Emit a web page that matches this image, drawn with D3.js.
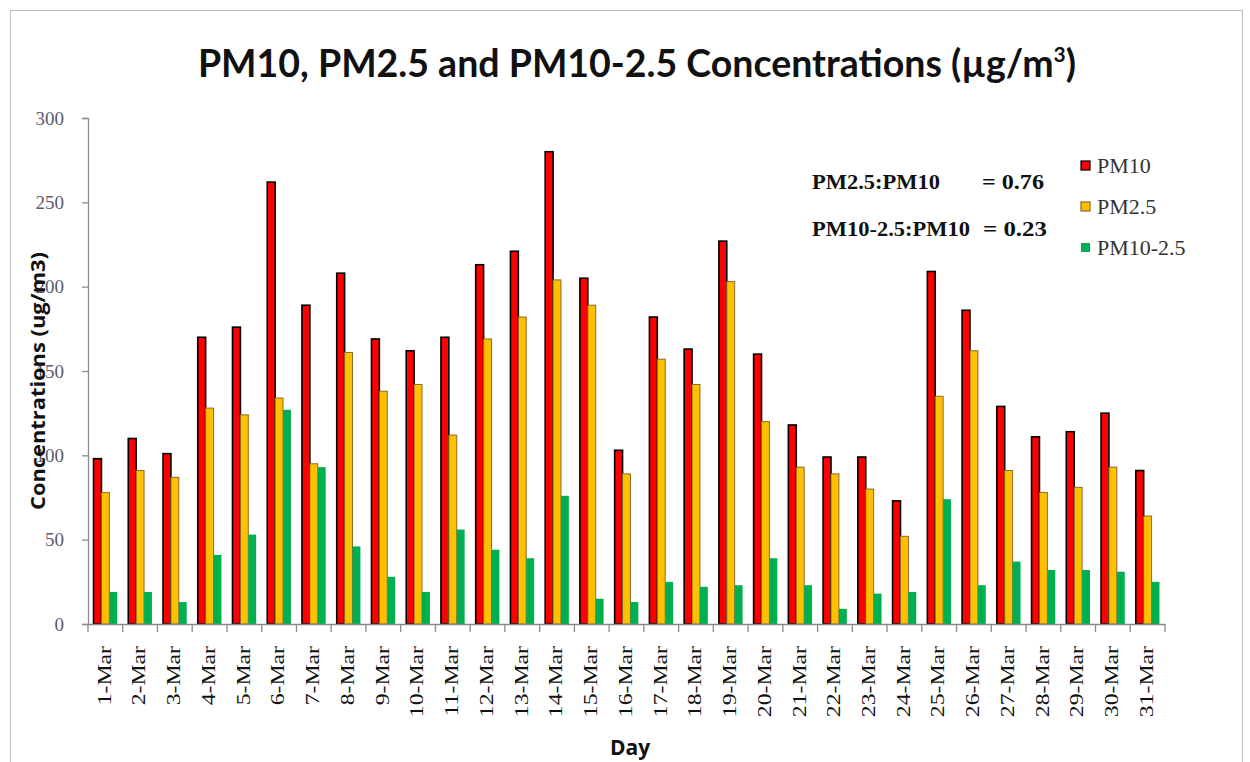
<!DOCTYPE html>
<html>
<head>
<meta charset="utf-8">
<script src="https://cdn.jsdelivr.net/npm/d3@7"></script>
<style>
  html, body { margin: 0; padding: 0; background: #fff; }
  svg { display: block; }
</style>
</head>
<body>
<svg id="chart" width="1250" height="762"></svg>
<script>
const days = ["1-Mar","2-Mar","3-Mar","4-Mar","5-Mar","6-Mar","7-Mar","8-Mar","9-Mar","10-Mar",
  "11-Mar","12-Mar","13-Mar","14-Mar","15-Mar","16-Mar","17-Mar","18-Mar","19-Mar","20-Mar",
  "21-Mar","22-Mar","23-Mar","24-Mar","25-Mar","26-Mar","27-Mar","28-Mar","29-Mar","30-Mar","31-Mar"];
const pm10 = [98, 110, 101, 170, 176, 262, 189, 208, 169, 162,
  170, 213, 221, 280, 205, 103, 182, 163, 227, 160,
  118, 99, 99, 73, 209, 186, 129, 111, 114, 125, 91];
const pm25 = [78, 91, 87, 128, 124, 134, 95, 161, 138, 142,
  112, 169, 182, 204, 189, 89, 157, 142, 203, 120,
  93, 89, 80, 52, 135, 162, 91, 78, 81, 93, 64];
const pmCoarse = [19, 19, 13, 41, 53, 127, 93, 46, 28, 19,
  56, 44, 39, 76, 15, 13, 25, 22, 23, 39,
  23, 9, 18, 19, 74, 23, 37, 32, 32, 31, 25];
const seriesNames = ["PM10", "PM2.5", "PM10-2.5"];
const yTicks = [0, 50, 100, 150, 200, 250, 300];
const ratioLabels = [["PM2.5:PM10", "= 0.76"], ["PM10-2.5:PM10", "= 0.23"]];

const colors = { "PM10": "#ff0000", "PM2.5": "#ffc000", "PM10-2.5": "#00b050" };
const strokes = { "PM10": "#000", "PM2.5": "#8c6a2c", "PM10-2.5": "none" };
const strokeW = { "PM10": 1.6, "PM2.5": 1, "PM10-2.5": 0 };

const svg = d3.select("#chart");
// outer frame
svg.append("rect").attr("x", 10.5).attr("y", 10.5).attr("width", 1232).attr("height", 760)
  .attr("fill", "none").attr("stroke", "#bdbdbd").attr("stroke-width", 1);

const mLeft = 88, mRight = 1165, mTop = 118, mBottom = 624;
const x0 = d3.scaleBand().domain(days).range([mLeft, mRight]).padding(0);
const x1 = d3.scaleBand().domain(seriesNames).range([0, x0.bandwidth()]).paddingOuter(0.7).paddingInner(0);
const y = d3.scaleLinear().domain([0, 300]).range([mBottom, mTop]);

const table = days.map((d, i) => ({ day: d, vals: [
  { k: "PM10", v: pm10[i] }, { k: "PM2.5", v: pm25[i] }, { k: "PM10-2.5", v: pmCoarse[i] }] }));

const groups = svg.append("g").selectAll("g").data(table).join("g")
  .attr("transform", d => `translate(${x0(d.day)},0)`);
groups.selectAll("rect").data(d => d.vals).join("rect")
  .attr("x", d => x1(d.k))
  .attr("y", d => y(d.v))
  .attr("width", x1.bandwidth())
  .attr("height", d => y(0) - y(d.v))
  .attr("fill", d => colors[d.k])
  .attr("stroke", d => strokes[d.k])
  .attr("stroke-width", d => strokeW[d.k]);

// Y axis
const yAxis = svg.append("g").attr("transform", `translate(${mLeft},0)`)
  .call(d3.axisLeft(y).tickValues(yTicks).tickSize(6).tickPadding(18));
yAxis.select(".domain").attr("stroke", "#8a8a8a").attr("stroke-width", 1.3);
yAxis.selectAll(".tick line").attr("stroke", "#8a8a8a").attr("stroke-width", 1.3);
yAxis.selectAll(".tick text").attr("font-family", "Liberation Serif, serif").attr("font-size", 19)
  .attr("fill", "#5a5a6a");

// X axis
const xAxis = svg.append("g").attr("transform", `translate(0,${mBottom})`)
  .call(d3.axisBottom(x0).tickSize(0).tickPadding(0));
xAxis.select(".domain").attr("stroke", "#8a8a8a").attr("stroke-width", 1.3);
xAxis.selectAll(".tick text")
  .attr("font-family", "Liberation Serif, serif").attr("font-size", 18).attr("fill", "#111")
  .attr("text-anchor", "end").attr("dy", "0.35em")
  .attr("transform", "translate(-1,22) rotate(-90) scale(1.32,1)");
// category boundary ticks
svg.append("g").selectAll("line").data(days.concat(["end"])).join("line")
  .attr("x1", (d, i) => mLeft + i * x0.step())
  .attr("x2", (d, i) => mLeft + i * x0.step())
  .attr("y1", mBottom).attr("y2", mBottom + 8)
  .attr("stroke", "#8a8a8a").attr("stroke-width", 1.3);

// Title
const title = svg.append("text").attr("x", 637).attr("y", 77).attr("text-anchor", "middle")
  .attr("font-family", "Lato, sans-serif").attr("font-weight", "bold").attr("font-size", 37.5).attr("fill", "#111");
title.append("tspan").text("PM10, PM2.5 and PM10-2.5 Concentrations (µg/m");
title.append("tspan").text("3").attr("font-size", 21).attr("dy", -15);
title.append("tspan").text(")").attr("dy", 15);

// Y label
svg.append("text").attr("transform", "translate(45,381) rotate(-90)").attr("text-anchor", "middle")
  .attr("font-family", "Open Sans, sans-serif").attr("font-weight", "bold").attr("font-size", 20).attr("fill", "#111")
  .attr("textLength", 258).attr("lengthAdjust", "spacingAndGlyphs")
  .text("Concentrations (ug/m3)");

// X label
svg.append("text").attr("x", 630).attr("y", 755).attr("text-anchor", "middle")
  .attr("font-family", "Open Sans, sans-serif").attr("font-weight", "bold").attr("font-size", 21).attr("fill", "#111")
  .text("Day");

// Ratio annotations
const ann = svg.append("g");
const annLen = [[128, 62], [158, 64]];
const annX = [[812, 982], [812, 983]];
ratioLabels.forEach((r, i) => {
  const yy = 189 + i * 47;
  ann.append("text").attr("x", annX[i][0]).attr("y", yy)
    .attr("font-family", "Liberation Serif, serif").attr("font-weight", "bold").attr("font-size", 20).attr("fill", "#111")
    .attr("textLength", annLen[i][0]).attr("lengthAdjust", "spacingAndGlyphs")
    .text(r[0]);
  ann.append("text").attr("x", annX[i][1]).attr("y", yy)
    .attr("font-family", "Liberation Serif, serif").attr("font-weight", "bold").attr("font-size", 20).attr("fill", "#111")
    .attr("textLength", annLen[i][1]).attr("lengthAdjust", "spacingAndGlyphs")
    .text(r[1]);
});

// Legend
const leg = svg.append("g").selectAll("g").data(seriesNames).join("g")
  .attr("transform", (d, i) => `translate(1081,${166 + i * 41})`);
leg.append("rect").attr("x", 0).attr("y", -5).attr("width", 9).attr("height", 9)
  .attr("fill", d => colors[d]).attr("stroke", d => strokes[d] === "none" ? "none" : strokes[d]).attr("stroke-width", 1.2);
leg.append("text").attr("x", 16).attr("y", 7)
  .attr("font-family", "Liberation Serif, serif").attr("font-size", 22).attr("fill", "#333")
  .text(d => d);
</script>
</body>
</html>
